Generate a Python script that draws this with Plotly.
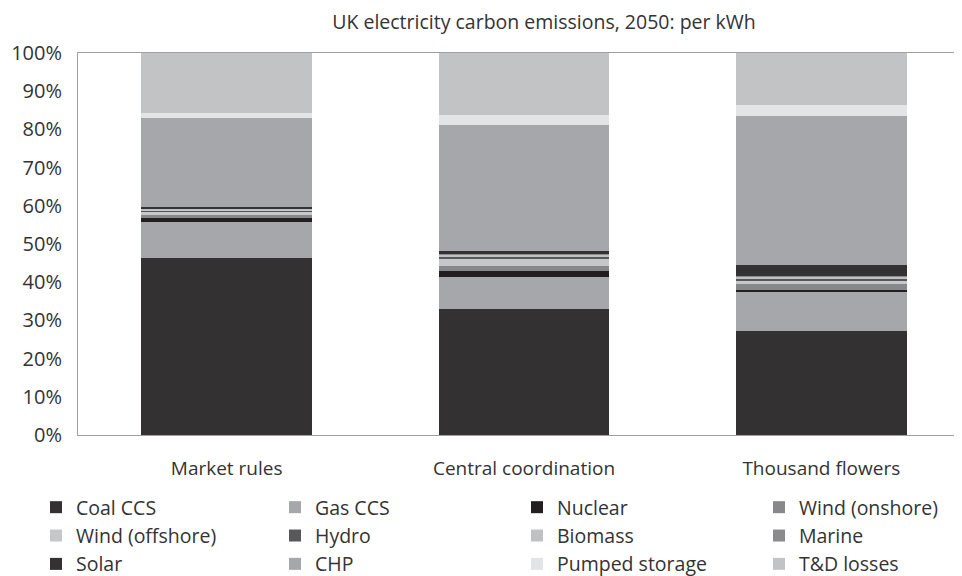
import plotly.graph_objects as go

categories = ["Market rules", "Central coordination", "Thousand flowers"]

series_names = ["Coal CCS", "Gas CCS", "Nuclear", "Wind (onshore)", "Wind (offshore)", "Hydro",
                "Biomass", "Marine", "Solar", "CHP", "Pumped storage", "T&D losses"]

coal_ccs = [46.3, 33.0, 27.2]
gas_ccs = [9.5, 8.3, 10.3]
nuclear = [1.0, 1.7, 0.45]
wind_onshore = [0.9, 1.3, 1.6]
wind_offshore = [0.8, 2.0, 0.8]
hydro = [0.3, 0.35, 0.5]
biomass = [0.4, 0.5, 0.6]
marine = [0.2, 0.4, 0.3]
solar = [0.3, 0.5, 2.75]
chp = [23.4, 33.2, 39.0]
pumped_storage = [1.3, 2.6, 2.9]
td_losses = [15.6, 16.2, 13.6]

values = [coal_ccs, gas_ccs, nuclear, wind_onshore, wind_offshore, hydro,
          biomass, marine, solar, chp, pumped_storage, td_losses]

colors = ["#333132", "#a6a7aa", "#231f20", "#88888a", "#c6c7c9", "#58585a",
          "#c0c1c3", "#8b8b8d", "#333132", "#a6a7aa", "#e3e4e6", "#c2c3c5"]

# legend column assignment (4 columns x 3 rows, row-major)
legend_ids = ["legend", "legend2", "legend3", "legend4"]

font_family = "Open Sans, Noto Sans, sans-serif"
text_color = "#333333"

fig = go.Figure()
for i, (name, vals, col) in enumerate(zip(series_names, values, colors)):
    fig.add_trace(go.Bar(
        x=categories, y=vals, name=name,
        marker=dict(color=col, line=dict(width=0)),
        legend=legend_ids[i % 4],
        hovertemplate="%{x}<br>" + name + ": %{y:.1f}%<extra></extra>",
    ))

col_x = [28, 267, 509, 751]
legend_common = dict(
    orientation="v", traceorder="normal", xref="container", yref="container",
    yanchor="top", y=1 - 480 / 576, font=dict(family=font_family, size=19.5, color=text_color),
    bgcolor="rgba(0,0,0,0)", itemclick=False, tracegroupgap=0,
)
layout_legends = {}
for k, lid in enumerate(legend_ids):
    layout_legends[lid] = dict(legend_common, x=col_x[k] / 962, xanchor="left")

fig.update_layout(
    width=962, height=576,
    barmode="stack", bargap=0.427,
    plot_bgcolor="white", paper_bgcolor="white",
    margin=dict(l=70, r=0, t=45, b=149, autoexpand=False),
    font=dict(family=font_family, size=19, color=text_color),
    title=dict(text="UK electricity carbon emissions, 2050: per kWh",
               x=536 / 962, xanchor="center", xref="container",
               y=1 - 14 / 576, yanchor="middle", yref="container",
               font=dict(family=font_family, size=19.5, color=text_color)),
    xaxis=dict(showline=True, linecolor="#a0a0a0", linewidth=1, mirror=True,
               showgrid=False, ticks="", ticklabelstandoff=16, tickangle=0,
               tickfont=dict(size=19, color=text_color)),
    yaxis=dict(range=[0, 100], dtick=10, ticksuffix="%", showline=True,
               linecolor="#a0a0a0", linewidth=1, showgrid=False, zeroline=False,
               ticks="", ticklabelstandoff=11, tickfont=dict(size=20, color=text_color)),
    **layout_legends,
)

fig.write_html("out.html")
